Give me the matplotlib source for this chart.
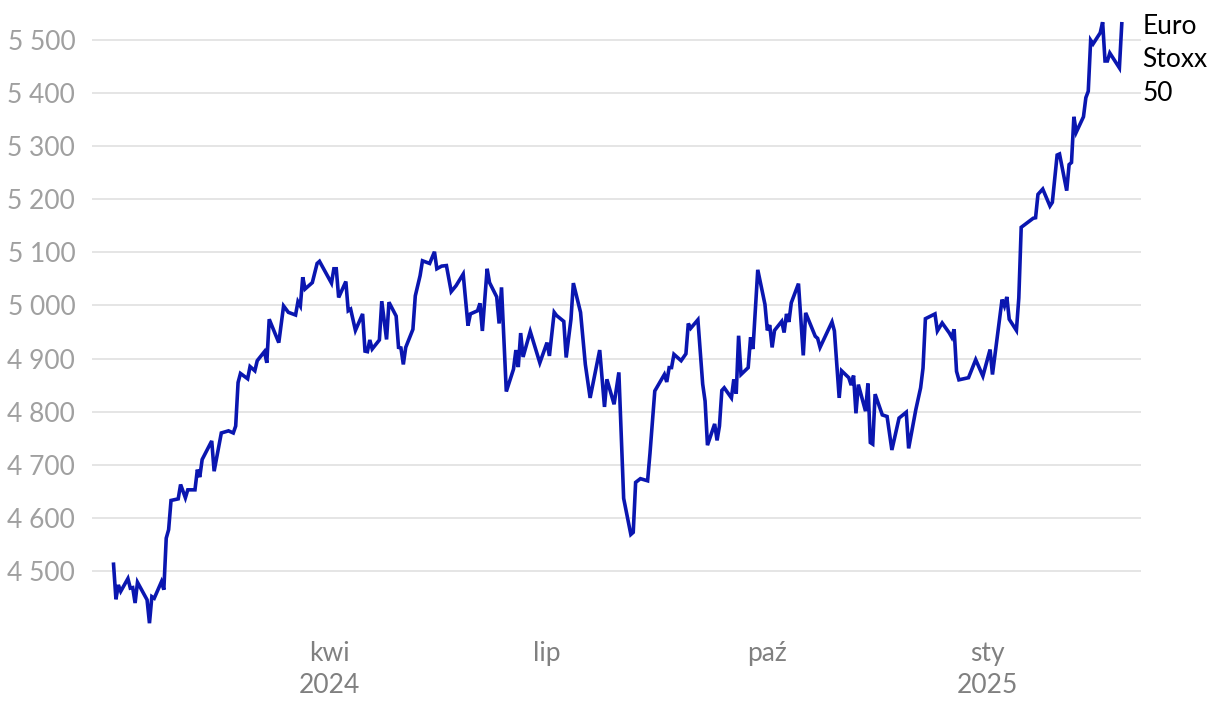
import numpy as np
import pandas as pd
import matplotlib
matplotlib.use("Agg")
import matplotlib.pyplot as plt
import matplotlib.dates as mdates
from matplotlib.ticker import FuncFormatter

# Euro Stoxx 50
dates = [
    "2024-01-02", "2024-01-03", "2024-01-04", "2024-01-05", "2024-01-08", "2024-01-09",
    "2024-01-10", "2024-01-11", "2024-01-12", "2024-01-16", "2024-01-17", "2024-01-18",
    "2024-01-19", "2024-01-22", "2024-01-23", "2024-01-24", "2024-01-25", "2024-01-26",
    "2024-01-29", "2024-01-30", "2024-02-01", "2024-02-02", "2024-02-05", "2024-02-06",
    "2024-02-07", "2024-02-08", "2024-02-12", "2024-02-13", "2024-02-16", "2024-02-19",
    "2024-02-21", "2024-02-22", "2024-02-23", "2024-02-24", "2024-02-27", "2024-02-28",
    "2024-03-01", "2024-03-02", "2024-03-05", "2024-03-06", "2024-03-07", "2024-03-11",
    "2024-03-13", "2024-03-15", "2024-03-18", "2024-03-19", "2024-03-20", "2024-03-21",
    "2024-03-22", "2024-03-25", "2024-03-27", "2024-03-28", "2024-04-02", "2024-04-03",
    "2024-04-04", "2024-04-05", "2024-04-08", "2024-04-09", "2024-04-10", "2024-04-12",
    "2024-04-15", "2024-04-16", "2024-04-17", "2024-04-18", "2024-04-19", "2024-04-22",
    "2024-04-23", "2024-04-25", "2024-04-26", "2024-04-29", "2024-04-30", "2024-05-01",
    "2024-05-02", "2024-05-03", "2024-05-06", "2024-05-07", "2024-05-09", "2024-05-10",
    "2024-05-13", "2024-05-15", "2024-05-16", "2024-05-18", "2024-05-20", "2024-05-22",
    "2024-05-24", "2024-05-27", "2024-05-29", "2024-05-30", "2024-06-02", "2024-06-03",
    "2024-06-04", "2024-06-06", "2024-06-07", "2024-06-10", "2024-06-11", "2024-06-12",
    "2024-06-14", "2024-06-17", "2024-06-18", "2024-06-19", "2024-06-20", "2024-06-21",
    "2024-06-24", "2024-06-28", "2024-07-01", "2024-07-02", "2024-07-04", "2024-07-05",
    "2024-07-08", "2024-07-09", "2024-07-11", "2024-07-12", "2024-07-15", "2024-07-17",
    "2024-07-19", "2024-07-23", "2024-07-25", "2024-07-26", "2024-07-29", "2024-07-31",
    "2024-08-02", "2024-08-05", "2024-08-06", "2024-08-07", "2024-08-09", "2024-08-12",
    "2024-08-13", "2024-08-15", "2024-08-19", "2024-08-20", "2024-08-21", "2024-08-22",
    "2024-08-23", "2024-08-26", "2024-08-28", "2024-08-29", "2024-08-30", "2024-09-02",
    "2024-09-04", "2024-09-05", "2024-09-06", "2024-09-09", "2024-09-10", "2024-09-11",
    "2024-09-12", "2024-09-13", "2024-09-16", "2024-09-17", "2024-09-18", "2024-09-19",
    "2024-09-20", "2024-09-23", "2024-09-24", "2024-09-25", "2024-09-27", "2024-09-30",
    "2024-10-01", "2024-10-02", "2024-10-03", "2024-10-04", "2024-10-07", "2024-10-08",
    "2024-10-09", "2024-10-10", "2024-10-11", "2024-10-14", "2024-10-16", "2024-10-17",
    "2024-10-21", "2024-10-22", "2024-10-23", "2024-10-28", "2024-10-29", "2024-10-31",
    "2024-11-01", "2024-11-04", "2024-11-05", "2024-11-06", "2024-11-07", "2024-11-08",
    "2024-11-11", "2024-11-12", "2024-11-13", "2024-11-14", "2024-11-15", "2024-11-18",
    "2024-11-20", "2024-11-22", "2024-11-25", "2024-11-28", "2024-11-29", "2024-12-02",
    "2024-12-04", "2024-12-05", "2024-12-06", "2024-12-10", "2024-12-11", "2024-12-13",
    "2024-12-16", "2024-12-17", "2024-12-18", "2024-12-19", "2024-12-20", "2024-12-24",
    "2024-12-27", "2024-12-30", "2025-01-02", "2025-01-03", "2025-01-07", "2025-01-08",
    "2025-01-09", "2025-01-10", "2025-01-13", "2025-01-14", "2025-01-15", "2025-01-20",
    "2025-01-21", "2025-01-22", "2025-01-24", "2025-01-27", "2025-01-28", "2025-01-30",
    "2025-01-31", "2025-02-03", "2025-02-04", "2025-02-05", "2025-02-06", "2025-02-07",
    "2025-02-10", "2025-02-11", "2025-02-12", "2025-02-13", "2025-02-14", "2025-02-17",
    "2025-02-18", "2025-02-19", "2025-02-20", "2025-02-21", "2025-02-25", "2025-02-26",
]
values = [
    4513, 4447, 4474, 4462, 4486, 4468,
    4469, 4440, 4479, 4446, 4402, 4452,
    4449, 4480, 4465, 4562, 4578, 4633,
    4636, 4663, 4638, 4653, 4653, 4691,
    4677, 4710, 4745, 4688, 4760, 4764,
    4760, 4773, 4855, 4872, 4862, 4885,
    4877, 4896, 4913, 4892, 4974, 4930,
    4999, 4987, 4982, 5007, 4999, 5053,
    5031, 5043, 5079, 5083, 5042, 5069,
    5069, 5015, 5045, 4990, 4993, 4953,
    4984, 4914, 4913, 4935, 4918, 4935,
    5008, 4936, 5006, 4980, 4921, 4920,
    4889, 4921, 4955, 5018, 5056, 5084,
    5079, 5101, 5069, 5074, 5075, 5026,
    5037, 5059, 4962, 4984, 4990, 5004,
    4952, 5069, 5043, 5016, 4966, 5034,
    4838, 4880, 4916, 4884, 4948, 4903,
    4951, 4892, 4930, 4905, 4987, 4981,
    4970, 4902, 4974, 5042, 4987, 4889,
    4826, 4916, 4809, 4861, 4814, 4874,
    4637, 4569, 4573, 4667, 4674, 4670,
    4722, 4839, 4870, 4856, 4883, 4883,
    4908, 4896, 4909, 4966, 4957, 4973,
    4852, 4820, 4737, 4777, 4746, 4773,
    4840, 4845, 4826, 4861, 4834, 4943,
    4870, 4883, 4940, 4918, 5067, 5002,
    4953, 4963, 4921, 4953, 4970, 4949,
    4984, 4969, 5005, 5041, 4906, 4986,
    4942, 4938, 4921, 4969, 4952, 4826,
    4877, 4864, 4850, 4868, 4797, 4851,
    4801, 4853, 4742, 4739, 4833, 4794,
    4791, 4728, 4788, 4799, 4731, 4804,
    4845, 4882, 4975, 4984, 4952, 4967,
    4948, 4940, 4955, 4876, 4860, 4864,
    4898, 4867, 4917, 4870, 5011, 4999,
    5016, 4974, 4953, 5014, 5147, 5164,
    5165, 5209, 5219, 5187, 5194, 5283,
    5285, 5216, 5265, 5269, 5355, 5326,
    5355, 5391, 5403, 5499, 5492, 5513,
    5533, 5460, 5460, 5475, 5447, 5530,
]
series_name = "Euro\nStoxx\n50"

tick_dates = ["2024-04-01", "2024-07-01", "2024-10-01", "2025-01-01"]
tick_labels = ["kwi\n2024", "lip", "paź", "sty\n2025"]
y_ticks = list(range(4500, 5501, 100))

plt.rcParams['font.family'] = ['Lato', 'DejaVu Sans']

t = pd.to_datetime(dates)

fig = plt.figure(figsize=(12.2, 7.12), dpi=100)
ax = fig.add_axes([0.0754, 0.115, 0.8598, 0.871])

ax.plot(t, values, color='#0a16b0', lw=2.6, solid_joinstyle='miter', zorder=3)

ax.set_ylim(4389, 5556)
ax.set_xlim(pd.Timestamp("2023-12-24"), pd.Timestamp("2025-03-06"))
ax.set_yticks(y_ticks)
ax.yaxis.set_major_formatter(FuncFormatter(lambda v, p: "{:,}".format(int(v)).replace(",", " ")))
ax.set_xticks(pd.to_datetime(tick_dates))
ax.set_xticklabels(tick_labels)

ax.grid(axis='y', color='#e3e3e3', lw=1.3)
ax.set_axisbelow(True)
for s in ax.spines.values():
    s.set_visible(False)
ax.tick_params(axis='y', length=0, pad=12, labelsize=19, labelcolor='#a0a0a0')
ax.tick_params(axis='x', length=0, pad=8, labelsize=19, labelcolor='#808080')
for lab in ax.get_xticklabels():
    lab.set_linespacing(1.35)

ax.annotate(series_name, xy=(t[-1], values[-1]), xytext=(15, 7),
            textcoords='offset points', ha='left', va='top',
            fontsize=19, color='black', linespacing=1.42, annotation_clip=False)

fig.savefig("out.png", dpi=100)
